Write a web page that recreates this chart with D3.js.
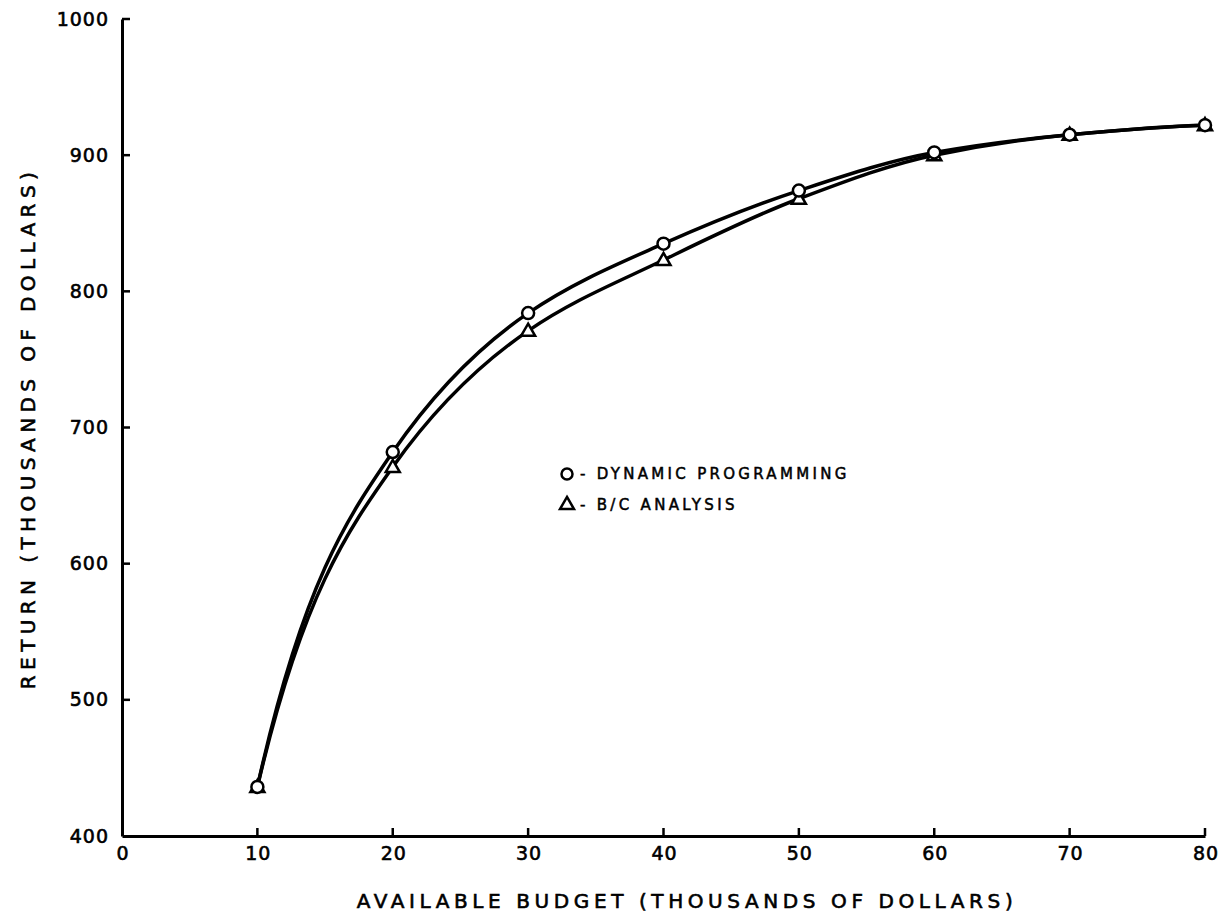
<!DOCTYPE html>
<html>
<head>
<meta charset="utf-8">
<script src="https://cdn.jsdelivr.net/npm/d3@7"></script>
<style>
html,body{margin:0;padding:0;background:#fff;}
svg{display:block;}
text{font-family:"DejaVu Sans","Liberation Sans",sans-serif;fill:#000;stroke:#000;stroke-width:0.6px;}
</style>
</head>
<body>
<svg id="chart" width="1230" height="919"></svg>
<script>
const budget = [10, 20, 30, 40, 50, 60, 70, 80];
const dynamicProgramming = [436, 682, 784, 835, 874, 902, 915, 922];
const bcAnalysis = [436, 671, 771, 823, 868, 900, 915, 922];
const xTicks = [0, 10, 20, 30, 40, 50, 60, 70, 80];
const yTicks = [400, 500, 600, 700, 800, 900, 1000];
const xTitle = "AVAILABLE  BUDGET  (THOUSANDS  OF  DOLLARS)";
const yTitle = "RETURN  (THOUSANDS  OF  DOLLARS)";
const legendLabels = ["- DYNAMIC  PROGRAMMING", "- B/C  ANALYSIS"];

// smooth hand-drafted style curve: monotone interior tangents, end tangents with zero curvature at the neighbouring point
function DraftCurve(context) { this._context = context; }
DraftCurve.prototype = {
  areaStart() { this._line = 0; },
  areaEnd() { this._line = NaN; },
  lineStart() { this._px = []; this._py = []; },
  point(x, y) { this._px.push(+x); this._py.push(+y); },
  lineEnd() {
    const X = this._px, Y = this._py, n = X.length, c = this._context;
    if (!n) return;
    c.moveTo(X[0], Y[0]);
    if (n === 1) return;
    const d = [];
    for (let i = 0; i < n - 1; i++) d.push((Y[i + 1] - Y[i]) / (X[i + 1] - X[i]));
    const m = new Array(n);
    for (let i = 1; i < n - 1; i++) {
      m[i] = d[i - 1] * d[i] > 0 ? 2 * d[i - 1] * d[i] / (d[i - 1] + d[i]) : 0;
    }
    if (n === 2) { m[0] = m[1] = d[0]; }
    else {
      m[0] = 3 * d[0] - 2 * m[1];
      m[n - 1] = 3 * d[n - 2] - 2 * m[n - 2];
    }
    for (let i = 0; i < n - 1; i++) {
      const h = X[i + 1] - X[i];
      c.bezierCurveTo(X[i] + h / 3, Y[i] + m[i] * h / 3,
                      X[i + 1] - h / 3, Y[i + 1] - m[i + 1] * h / 3,
                      X[i + 1], Y[i + 1]);
    }
  }
};
const curveDraft = context => new DraftCurve(context);

const svg = d3.select("#chart");
const x = d3.scaleLinear().domain([0, 80]).range([122, 1205]);
const y = d3.scaleLinear().domain([400, 1000]).range([836, 19]);

// axes
const xAxis = d3.axisBottom(x).tickValues(xTicks).tickSize(0).tickPadding(11).tickFormat(d3.format("d"));
const gx = svg.append("g").attr("transform", `translate(0,${y(400)})`).call(xAxis);
gx.select(".domain").attr("stroke", "#000").attr("stroke-width", 3);
gx.selectAll("text").style("font-size", "19px").style("letter-spacing", "1px").attr("dx", "0.5px");
svg.append("g").selectAll("line").data(xTicks.filter(d => d > 0)).join("line")
  .attr("x1", d => x(d)).attr("x2", d => x(d))
  .attr("y1", y(400)).attr("y2", y(400) - 8)
  .attr("stroke", "#000").attr("stroke-width", 2.5);

const yAxis = d3.axisLeft(y).tickValues(yTicks).tickSize(0).tickPadding(13).tickFormat(d3.format("d"));
const gy = svg.append("g").attr("transform", `translate(${x(0)},0)`).call(yAxis);
gy.select(".domain").attr("stroke", "#000").attr("stroke-width", 3);
gy.selectAll("text").style("font-size", "19px").style("letter-spacing", "1px");
svg.append("g").selectAll("line").data(yTicks.filter(d => d > 400)).join("line")
  .attr("x1", x(0)).attr("x2", x(0) + 8)
  .attr("y1", d => y(d)).attr("y2", d => y(d))
  .attr("stroke", "#000").attr("stroke-width", 2.5);

// titles
svg.append("text").attr("x", 687).attr("y", 908).attr("text-anchor", "middle")
  .style("font-size", "20px").style("letter-spacing", "4.6px").text(xTitle);
svg.append("text").attr("transform", "translate(35,428) rotate(-90)").attr("text-anchor", "middle")
  .style("font-size", "20px").style("letter-spacing", "5.4px").text(yTitle);

// lines
const line = d3.line().x(d => x(d[0])).y(d => y(d[1])).curve(curveDraft);
const dpData = budget.map((b, i) => [b, dynamicProgramming[i]]);
const bcData = budget.map((b, i) => [b, bcAnalysis[i]]);
[dpData, bcData].forEach(data => {
  svg.append("path").datum(data).attr("d", line)
    .attr("fill", "none").attr("stroke", "#000").attr("stroke-width", 3.5);
});

// markers
const tri = d3.symbol().type(d3.symbolTriangle).size(85);
svg.append("g").selectAll("path").data(bcData).join("path")
  .attr("d", tri).attr("transform", d => `translate(${x(d[0])},${y(d[1]) + 1})`)
  .attr("fill", "#fff").attr("stroke", "#000").attr("stroke-width", 2.5);
svg.append("g").selectAll("circle").data(dpData).join("circle")
  .attr("cx", d => x(d[0])).attr("cy", d => y(d[1])).attr("r", 6)
  .attr("fill", "#fff").attr("stroke", "#000").attr("stroke-width", 2.5);

// legend
const lg = svg.append("g");
lg.append("circle").attr("cx", 567).attr("cy", 474).attr("r", 5.5)
  .attr("fill", "#fff").attr("stroke", "#000").attr("stroke-width", 2.5);
lg.append("path").attr("d", tri).attr("transform", "translate(567,505)")
  .attr("fill", "#fff").attr("stroke", "#000").attr("stroke-width", 2.5);
lg.selectAll("text").data(legendLabels).join("text")
  .attr("x", 580).attr("y", (d, i) => 479 + i * 31)
  .style("font-size", "15px").style("letter-spacing", "3.3px").style("stroke-width", "0.5px")
  .text(d => d);
</script>
</body>
</html>
